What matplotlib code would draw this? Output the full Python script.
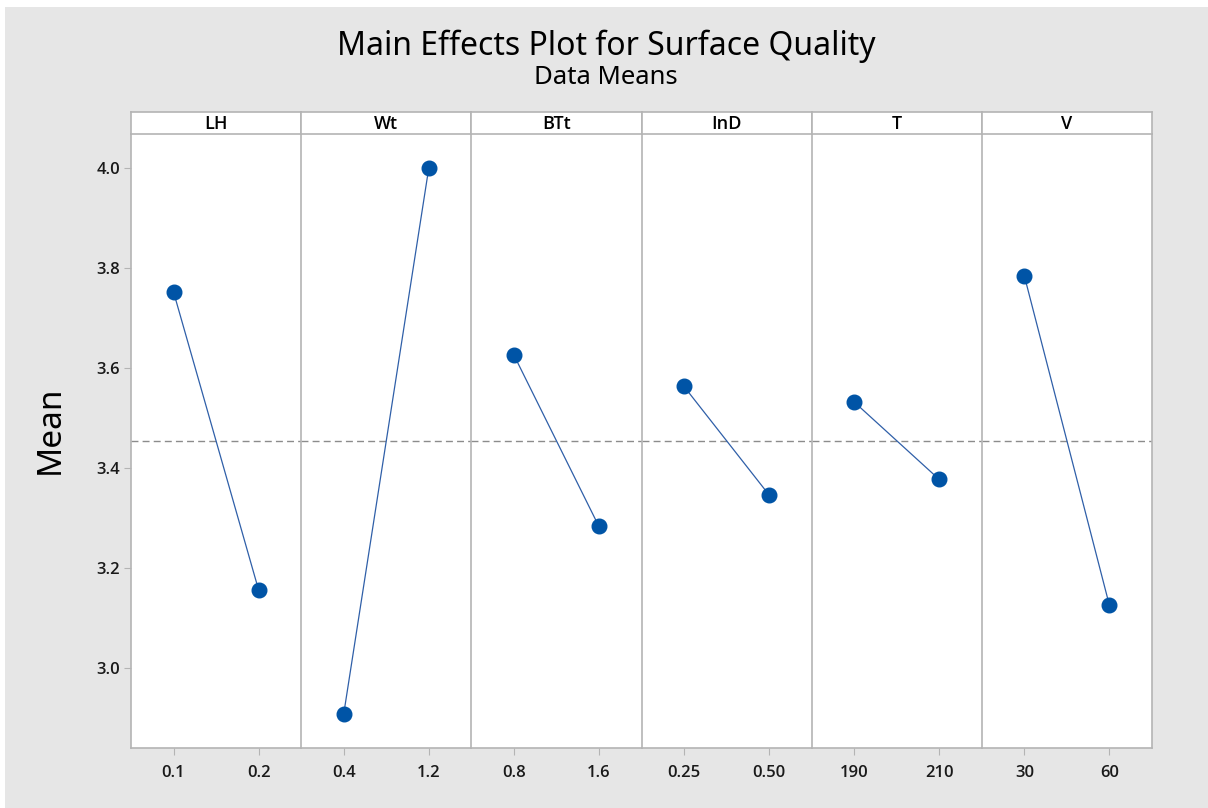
import matplotlib
matplotlib.use("Agg")
import matplotlib.pyplot as plt
from matplotlib.patches import Rectangle

plt.rcParams['font.family'] = ['Noto Sans', 'DejaVu Sans']

factors = ["LH", "Wt", "BTt", "InD", "T", "V"]
levels = [["0.1", "0.2"], ["0.4", "1.2"], ["0.8", "1.6"], ["0.25", "0.50"], ["190", "210"], ["30", "60"]]
means = [[3.752, 3.156], [2.908, 4.000], [3.626, 3.283], [3.563, 3.346], [3.532, 3.377], [3.784, 3.125]]
grand_mean = 3.454
yticks = [3.0, 3.2, 3.4, 3.6, 3.8, 4.0]

W, H = 1208, 808
fig = plt.figure(figsize=(W / 100, H / 100), dpi=100, facecolor="white")
fig.patches.append(Rectangle((5 / W, 0), 1 - 5 / W, 1 - 7 / H, transform=fig.transFigure,
                             facecolor="#e6e6e6", edgecolor="none", zorder=-10))

left_px, right_px = 131, 1152
top_px, head_px, bot_px = 134, 112, 748
n = len(factors)
pw = (right_px - left_px) / n
edge = "#b4b4b4"
blue = "#0054a6"
semi = ['Open Sans', 'Noto Sans', 'DejaVu Sans']
tickfont = dict(fontsize=12, color="#1a1a1a", fontweight=600, family=semi)

for i, f in enumerate(factors):
    x0 = (left_px + i * pw) / W
    ax = fig.add_axes([x0, 1 - bot_px / H, pw / W, (bot_px - top_px) / H])
    ax.set_facecolor("white")
    ax.plot([0, 1], means[i], color="#2f5fa8", lw=0.9, zorder=2)
    ax.plot([0, 1], means[i], 'o', color=blue, ms=10.5, zorder=3)
    ax.axhline(grand_mean, color="#8c8c8c", lw=1.0, ls=(0, (5, 3)), zorder=1)
    ax.set_xlim(-0.5, 1.5)
    ax.set_ylim(2.84, 4.068)
    ax.set_xticks([0, 1])
    ax.set_xticklabels(levels[i], **tickfont)
    ax.tick_params(axis='x', length=5, color=edge, pad=7)
    for s in ax.spines.values():
        s.set_color(edge)
        s.set_linewidth(1.2)
    ax.spines['top'].set_visible(False)
    if i == 0:
        ax.set_yticks(yticks)
        ax.set_yticklabels([f"{v:.1f}" for v in yticks], **tickfont)
        ax.tick_params(axis='y', length=5, color=edge, pad=3)
    else:
        ax.set_yticks([])
    if i != n - 1:
        ax.spines['right'].set_visible(False)

    hax = fig.add_axes([x0, 1 - top_px / H, pw / W, (top_px - head_px) / H])
    hax.set_facecolor("white")
    hax.set_xticks([])
    hax.set_yticks([])
    for s in hax.spines.values():
        s.set_color(edge)
        s.set_linewidth(1.2)
    hax.text(0.5, 0.45, f, ha="center", va="center", fontsize=13, fontweight=600, family=semi,
             transform=hax.transAxes)

fig.text(50 / W, 1 - 430 / H, "Mean", rotation=90, ha="center", va="center", fontsize=24)
fig.text(606 / W, 1 - 46 / H, "Main Effects Plot for Surface Quality", ha="center", va="center", fontsize=23)
fig.text(606 / W, 1 - 78 / H, "Data Means", ha="center", va="center", fontsize=18.5)

fig.savefig("out.png", dpi=100, facecolor=fig.get_facecolor())
